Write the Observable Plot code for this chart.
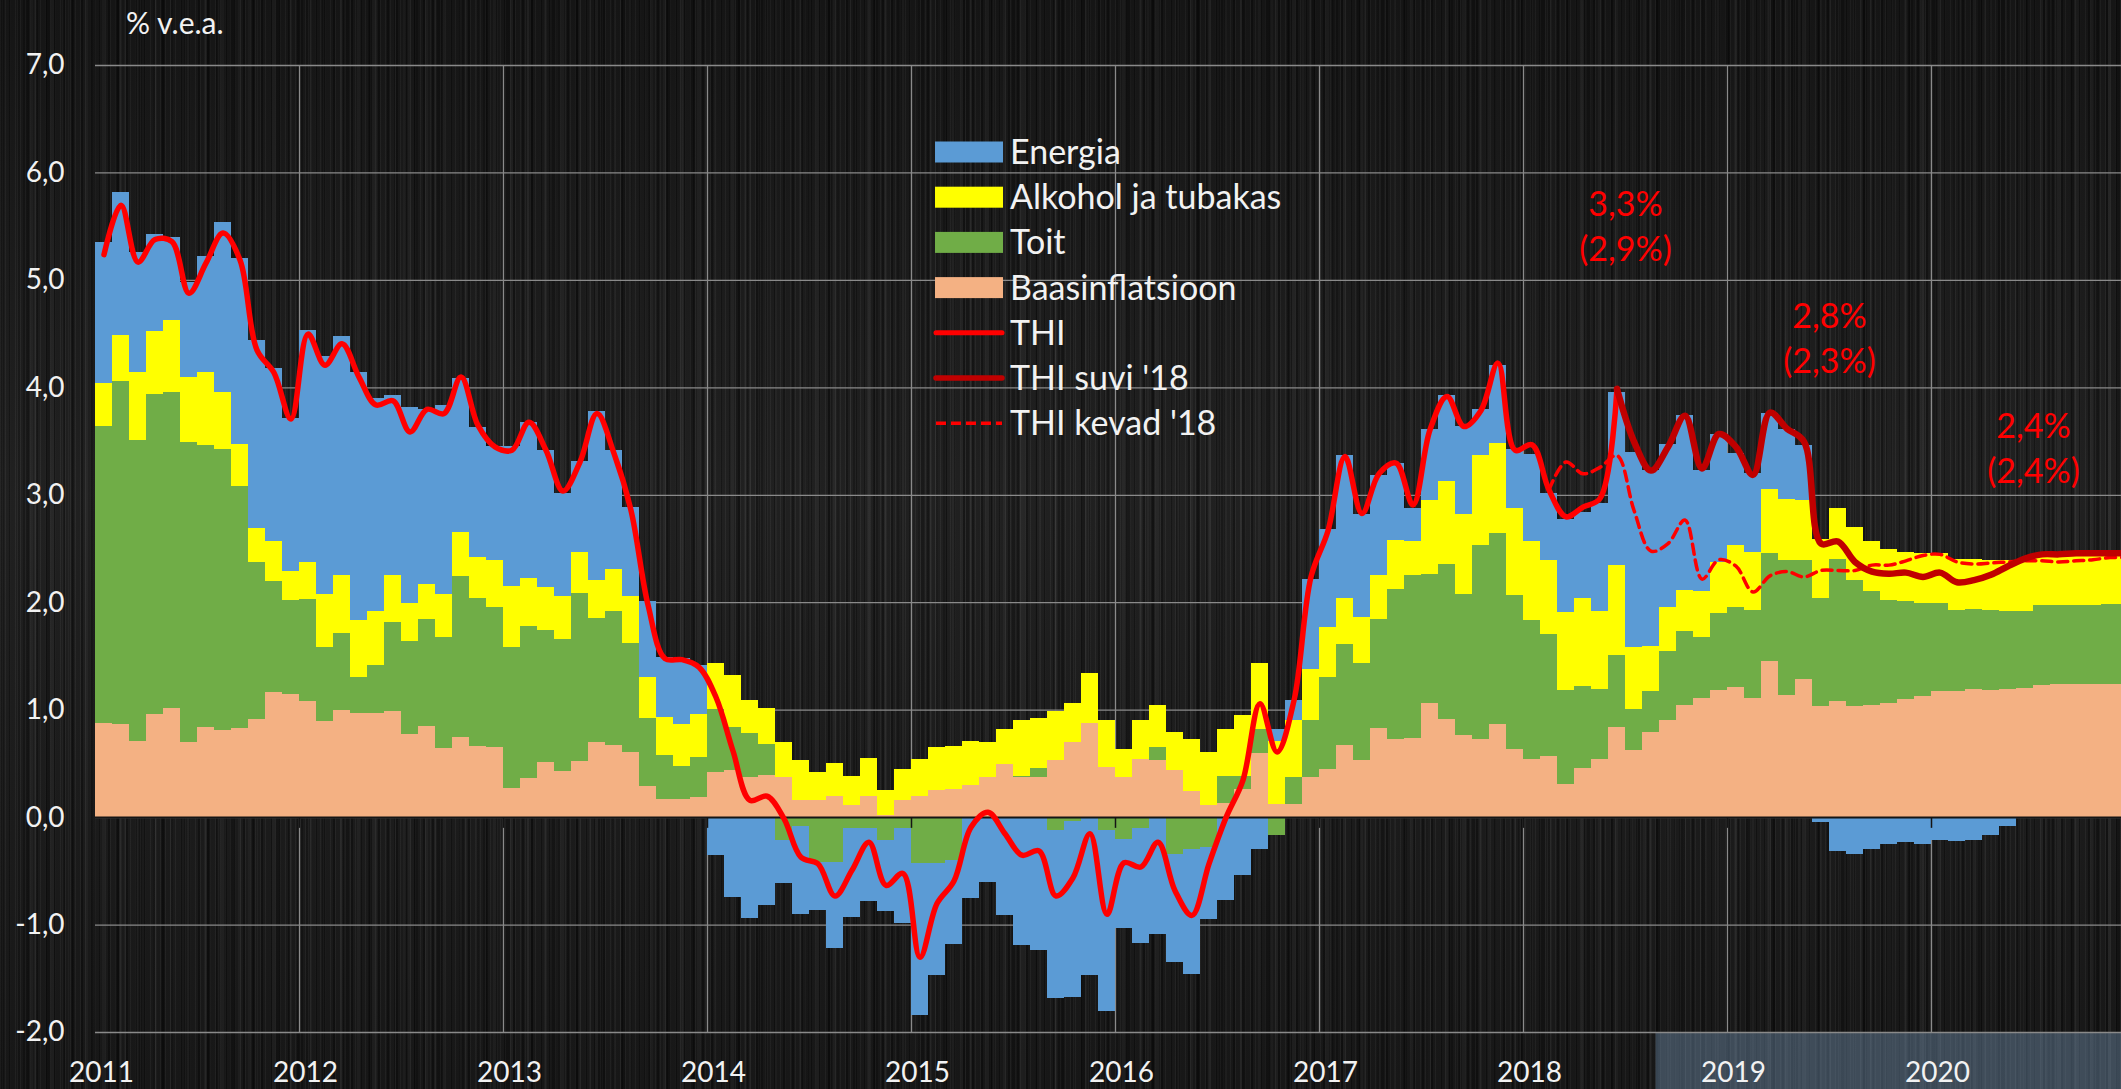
<!DOCTYPE html>
<html>
<head>
<meta charset="utf-8">
<script src="https://cdn.jsdelivr.net/npm/d3@7"></script>
<script src="https://cdn.jsdelivr.net/npm/@observablehq/plot@0.6"></script>
<style>
html, body { margin: 0; padding: 0; width: 2121px; height: 1089px; overflow: hidden; }
body {
  background-color: #1c1c1c;
  background-image:
    linear-gradient(180deg, rgba(0,0,0,0.25) 0%, rgba(255,255,255,0.02) 45%, rgba(0,0,0,0.18) 100%),
    repeating-linear-gradient(90deg, rgba(255,255,255,0.05) 0px, rgba(255,255,255,0.05) 1px, transparent 1px, transparent 5px),
    repeating-linear-gradient(90deg, rgba(0,0,0,0.35) 0px, rgba(0,0,0,0.35) 2px, transparent 2px, transparent 9px),
    repeating-linear-gradient(90deg, rgba(255,255,255,0.035) 0px, rgba(255,255,255,0.035) 3px, transparent 3px, transparent 17px),
    repeating-linear-gradient(90deg, rgba(0,0,0,0.25) 0px, rgba(0,0,0,0.25) 4px, transparent 4px, transparent 23px),
    repeating-linear-gradient(90deg, rgba(255,255,255,0.03) 0px, rgba(255,255,255,0.03) 2px, transparent 2px, transparent 31px);
}
#wrap { position: relative; width: 2121px; height: 1089px; }
#wrap > svg { position: absolute; left: 0; top: 0; }
</style>
</head>
<body>
<div id="wrap"></div>
<script>
// ---------------- DATA ----------------
const yearLabels = ["2011","2012","2013","2014","2015","2016","2017","2018","2019","2020"];
const yTicks = [-2, -1, 0, 1, 2, 3, 4, 5, 6, 7];
const unitLabel = "% v.e.a.";

const seriesNames = ["Baasinflatsioon", "Toit", "Alkohol ja tubakas", "Energia"];

// monthly contributions, Jan 2011 ... Dec 2020
const baas = [
  0.88, 0.87, 0.71, 0.96, 1.02, 0.70, 0.84, 0.81, 0.83, 0.91, 1.16, 1.15,
  1.08, 0.89, 1.00, 0.97, 0.97, 0.99, 0.77, 0.85, 0.64, 0.75, 0.66, 0.65,
  0.27, 0.36, 0.51, 0.43, 0.52, 0.70, 0.67, 0.61, 0.29, 0.17, 0.17, 0.19,
  0.42, 0.44, 0.37, 0.39, 0.37, 0.16, 0.16, 0.20, 0.11, 0.20, 0.02, 0.16,
  0.20, 0.25, 0.26, 0.30, 0.37, 0.49, 0.37, 0.37, 0.53, 0.70, 0.88, 0.47,
  0.37, 0.54, 0.53, 0.44, 0.24, 0.11, 0.13, 0.26, 0.60, 0.12, 0.12, 0.37,
  0.45, 0.67, 0.53, 0.83, 0.73, 0.74, 1.06, 0.91, 0.76, 0.73, 0.87, 0.63,
  0.54, 0.57, 0.31, 0.46, 0.54, 0.84, 0.62, 0.79, 0.90, 1.04, 1.11, 1.18,
  1.21, 1.11, 1.45, 1.14, 1.29, 1.03, 1.08, 1.03, 1.04, 1.06, 1.10, 1.13,
  1.17, 1.17, 1.19, 1.18, 1.19, 1.20, 1.23, 1.24, 1.24, 1.24, 1.24, 1.24
];
const toit = [
  2.76, 3.19, 2.80, 2.98, 2.94, 2.79, 2.62, 2.62, 2.25, 1.46, 1.04, 0.87,
  0.95, 0.69, 0.71, 0.33, 0.45, 0.83, 0.87, 0.99, 1.04, 1.49, 1.38, 1.31,
  1.31, 1.42, 1.23, 1.23, 1.57, 1.15, 1.25, 1.01, 0.63, 0.41, 0.31, 0.37,
  0.59, 0.40, 0.41, 0.29, -0.21, -0.08, -0.42, -0.42, -0.10, -0.10, -0.21, -0.10,
  -0.43, -0.43, -0.40, 0.00, 0.00, 0.00, 0.01, 0.09, -0.12, -0.04, 0.00, -0.12,
  -0.20, -0.10, 0.12, -0.34, -0.30, -0.28, 0.25, 0.12, 0.22, -0.17, 0.25, 0.53,
  0.85, 0.94, 0.90, 1.01, 1.39, 1.51, 1.20, 1.45, 1.32, 1.80, 1.77, 1.44,
  1.29, 1.13, 0.87, 0.76, 0.65, 0.67, 0.39, 0.38, 0.65, 0.69, 0.57, 0.72,
  0.75, 0.82, 1.01, 1.25, 1.10, 1.01, 1.32, 1.18, 1.06, 0.96, 0.91, 0.86,
  0.82, 0.76, 0.75, 0.75, 0.73, 0.72, 0.74, 0.73, 0.73, 0.73, 0.74, 0.74
];
const alkohol = [
  0.40, 0.43, 0.63, 0.58, 0.67, 0.61, 0.68, 0.53, 0.39, 0.32, 0.37, 0.27,
  0.34, 0.50, 0.54, 0.53, 0.50, 0.43, 0.35, 0.33, 0.40, 0.41, 0.38, 0.43,
  0.57, 0.45, 0.40, 0.40, 0.38, 0.36, 0.39, 0.44, 0.38, 0.35, 0.39, 0.40,
  0.42, 0.48, 0.31, 0.34, 0.33, 0.37, 0.26, 0.30, 0.27, 0.35, 0.23, 0.29,
  0.34, 0.40, 0.40, 0.41, 0.33, 0.33, 0.52, 0.46, 0.46, 0.36, 0.46, 0.43,
  0.26, 0.36, 0.39, 0.35, 0.49, 0.50, 0.44, 0.57, 0.61, 0.59, 0.53, 0.48,
  0.47, 0.43, 0.43, 0.41, 0.46, 0.32, 0.69, 0.77, 0.74, 0.84, 0.84, 0.81,
  0.74, 0.69, 0.73, 0.82, 0.73, 0.84, 0.57, 0.42, 0.41, 0.38, 0.42, 0.47,
  0.57, 0.54, 0.59, 0.57, 0.56, 0.55, 0.48, 0.49, 0.47, 0.48, 0.46, 0.47,
  0.47, 0.47, 0.46, 0.46, 0.47, 0.47, 0.46, 0.46, 0.47, 0.48, 0.48, 0.48
];
const energia = [
  1.31, 1.33, 1.12, 0.91, 0.77, 0.88, 1.08, 1.58, 1.73, 1.75, 1.61, 1.42,
  2.16, 2.21, 2.23, 2.31, 1.98, 1.68, 1.83, 1.63, 1.76, 1.44, 1.21, 1.06,
  1.30, 1.45, 1.28, 0.96, 0.84, 1.57, 1.11, 0.83, 0.71, 0.56, 0.61, 0.46,
  -0.35, -0.74, -0.94, -0.82, -0.40, -0.82, -0.44, -0.80, -0.83, -0.68, -0.66, -0.89,
  -1.41, -1.04, -0.78, -0.75, -0.60, -0.91, -1.19, -1.24, -1.56, -1.63, -1.47, -1.68,
  -0.83, -1.07, -1.09, -1.01, -1.16, -0.67, -0.77, -0.54, -0.30, 0.11, 0.19, 0.84,
  0.91, 1.33, 0.96, 0.93, 0.72, 0.31, 0.66, 0.80, 0.82, 0.43, 0.73, 0.55,
  0.81, 0.63, 0.86, 0.80, 1.00, 1.61, 1.82, 1.64, 1.51, 1.63, 1.13, 1.20,
  0.86, 0.73, 0.71, 0.65, 0.51, -0.05, -0.32, -0.34, -0.30, -0.25, -0.23, -0.25,
  -0.21, -0.22, -0.21, -0.17, -0.08, 0.00, 0.00, 0.00, 0.00, 0.00, 0.00, 0.00
];

// THI (actual), Jan 2011 ... Jun 2018
const thi = [
  5.24, 5.70, 5.17, 5.38, 5.36, 4.88, 5.16, 5.44, 5.19, 4.35, 4.14, 3.71,
  4.50, 4.21, 4.41, 4.10, 3.84, 3.88, 3.59, 3.80, 3.76, 4.10, 3.65, 3.45,
  3.42, 3.68, 3.42, 3.04, 3.31, 3.76, 3.39, 2.86, 1.98, 1.48, 1.47, 1.40,
  1.12, 0.62, 0.16, 0.20, -0.01, -0.37, -0.43, -0.73, -0.49, -0.23, -0.63, -0.52,
  -1.30, -0.80, -0.59, -0.09, 0.05, -0.15, -0.35, -0.31, -0.73, -0.56, -0.15, -0.90,
  -0.42, -0.46, -0.23, -0.68, -0.91, -0.43, 0.00, 0.35, 1.06, 0.61, 1.09, 2.24,
  2.67, 3.36, 2.83, 3.20, 3.30, 2.91, 3.61, 3.92, 3.64, 3.79, 4.23, 3.42,
  3.47, 3.05, 2.80, 2.89, 2.97, 3.99
];
const thiStart = 0;
// THI suvi '18 forecast, Jun 2018 ... Dec 2020
const thiSuvi = [
  3.99, 3.50, 3.23, 3.45, 3.74, 3.25, 3.57,
  3.45, 3.19, 3.77, 3.62, 3.50, 2.55, 2.57, 2.38, 2.29, 2.27, 2.28, 2.24,
  2.28, 2.19, 2.21, 2.26, 2.34, 2.41, 2.45, 2.45, 2.46, 2.46, 2.46, 2.46
];
const thiSuviStart = 89;
// THI kevad '18 forecast, Feb 2018 ... Dec 2020
const thiKevad = [
  3.05, 3.31, 3.20, 3.26, 3.37, 2.86, 2.48, 2.55, 2.77, 2.22, 2.40,
  2.34, 2.10, 2.25, 2.29, 2.24, 2.30, 2.30, 2.30, 2.35, 2.35, 2.39, 2.44,
  2.45, 2.38, 2.36, 2.37, 2.38, 2.39, 2.39, 2.38, 2.39, 2.40, 2.42, 2.42
];
const thiKevadStart = 85;

// annual forecasts: summer '18 and (spring '18)
const annYears = [2018, 2019, 2020];
const annSummer = [3.3, 2.8, 2.4];
const annSpring = [2.9, 2.3, 2.4];

const forecastStart = 91.8; // month index where forecast band starts

// ---------------- STYLE ----------------
const seriesColors = ["#f4b183", "#70ad47", "#ffff00", "#5b9bd5"];
const textColor = "#f2f2f2";
const gridColor = "#8a8a8a";
const fontFamily = "Lato, 'Open Sans', sans-serif";

// ---------------- BUILD ----------------
const values = [baas, toit, alkohol, energia];
const barData = [];
for (let i = 0; i < 120; i++) {
  seriesNames.forEach((s, k) => barData.push({i, i2: i + 1, series: s, value: values[k][i]}));
}
const toPts = (arr, start) => arr.map((v, j) => ({x: start + j + 0.5, v}));
const fmt1 = d => d.toFixed(1).replace(".", ",");
const yearStarts = yearLabels.map((d, k) => k * 12);
const annY = [5.70, 4.66, 3.63];

const chart = Plot.plot({
  width: 2121,
  height: 1089,
  marginLeft: 95, marginRight: 0, marginTop: 65, marginBottom: 57,
  x: {type: "linear", domain: [0, 120], range: [95, 2135], axis: null},
  y: {domain: [-2, 7], range: [1032, 65], axis: null},
  color: {domain: seriesNames, range: seriesColors},
  style: {background: "transparent", fontFamily, color: textColor, overflow: "hidden"},
  marks: [
    Plot.rect([{x1: forecastStart, x2: 120, y1: -2.7, y2: -2}], {x1: "x1", x2: "x2", y1: "y1", y2: "y2", fill: "#7896b4", fillOpacity: 0.42}),
    Plot.ruleY(yTicks, {x1: 0, x2: 120, stroke: gridColor, strokeWidth: 1.3}),
    Plot.ruleX(yearStarts.slice(1), {y1: -2, y2: 7, stroke: gridColor, strokeWidth: 1.3}),
    Plot.rectY(barData, Plot.stackY({x1: "i", x2: "i2", y: "value", fill: "series", shapeRendering: "crispEdges"})),
    Plot.ruleY([0], {x1: 0, x2: 120, stroke: "#151515", strokeWidth: 2}),
    Plot.ruleX(yearStarts.slice(1), {y1: 0, y2: -0.1, stroke: "#151515", strokeWidth: 1.5}),
    Plot.line(toPts(thiKevad, thiKevadStart), {x: "x", y: "v", stroke: "#ff0000", strokeWidth: 3.5, strokeDasharray: "10,6", curve: "catmull-rom"}),
    Plot.line(toPts(thi, thiStart), {x: "x", y: "v", stroke: "#ff0000", strokeWidth: 5.5, curve: "catmull-rom"}),
    Plot.line(toPts(thiSuvi, thiSuviStart), {x: "x", y: "v", stroke: "#c00000", strokeWidth: 6.5, curve: "catmull-rom"}),
    Plot.text(yTicks, {x: 0, y: d => d, text: fmt1, textAnchor: "end", dx: -31, fontSize: 28, fill: textColor}),
    Plot.text(yearLabels, {x: (d, k) => k * 12 + 0.35, y: -2, dy: 41, text: d => d, fontSize: 28, fill: textColor}),
    Plot.text([unitLabel], {x: 1.8, y: 7, dy: -41, text: d => d, textAnchor: "start", fontSize: 30, fill: textColor}),
    Plot.text(annYears, {x: d => (d - 2011) * 12 + 6, y: (d, k) => annY[k], text: (d, k) => fmt1(annSummer[k]) + "%", fontSize: 34, fill: "#ff0000"}),
    Plot.text(annYears, {x: d => (d - 2011) * 12 + 6, y: (d, k) => annY[k], dy: 45, text: (d, k) => "(" + fmt1(annSpring[k]) + "%)", fontSize: 34, fill: "#ff0000"})
  ]
});
const wrap = document.getElementById("wrap");
wrap.appendChild(chart);

// ---------------- LEGEND ----------------
const legendNames = ["Energia", "Alkohol ja tubakas", "Toit", "Baasinflatsioon", "THI", "THI suvi '18", "THI kevad '18"];
const legendKinds = [
  {type: "rect", color: "#5b9bd5"},
  {type: "rect", color: "#ffff00"},
  {type: "rect", color: "#70ad47"},
  {type: "rect", color: "#f4b183"},
  {type: "line", color: "#ff0000", width: 5, dash: null},
  {type: "line", color: "#c00000", width: 5.5, dash: null},
  {type: "line", color: "#ff0000", width: 3.5, dash: "10,5"}
];
let lg = `<svg width="2121" height="1089" style="position:absolute;left:0;top:0;pointer-events:none" font-family="${fontFamily}">`;
legendNames.forEach((name, k) => {
  const cy = 152 + k * 45.2;
  const st = legendKinds[k];
  if (st.type === "rect") {
    lg += `<rect x="935" y="${cy - 10.5}" width="68" height="21" fill="${st.color}"/>`;
  } else {
    lg += `<line x1="936" x2="1002" y1="${cy}" y2="${cy}" stroke="${st.color}" stroke-width="${st.width}" stroke-linecap="${st.dash ? "butt" : "round"}" ${st.dash ? `stroke-dasharray="${st.dash}"` : ""}/>`;
  }
  lg += `<text x="1010" y="${cy + 12}" font-size="34" fill="${textColor}">${name}</text>`;
});
lg += `</svg>`;
wrap.insertAdjacentHTML("beforeend", lg);
</script>
</body>
</html>
